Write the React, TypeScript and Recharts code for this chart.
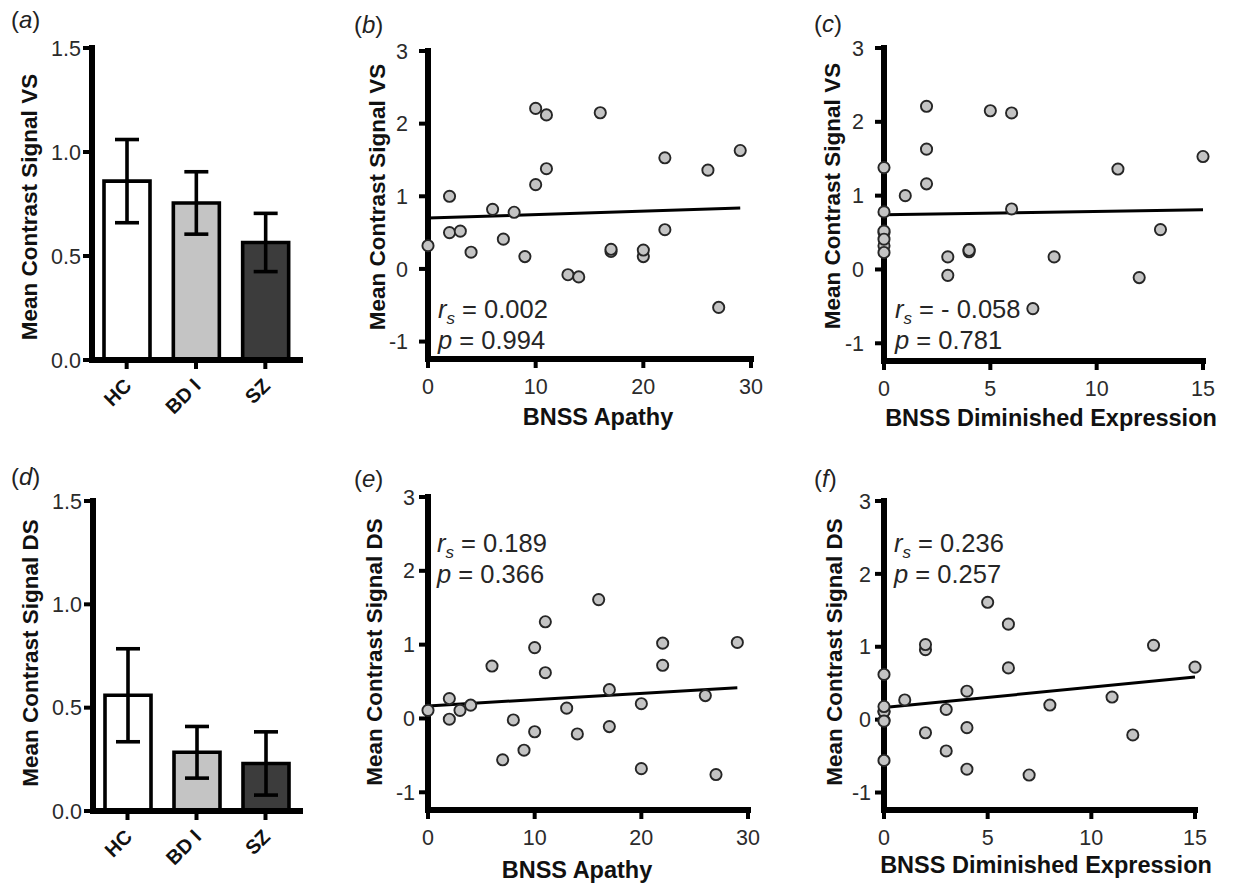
import React from 'react';
import {
  BarChart,
  Bar,
  Cell,
  ErrorBar,
  XAxis,
  YAxis,
  ScatterChart,
  Scatter,
  ReferenceLine,
} from 'recharts';

const FONT = '"Liberation Sans", Arial, Helvetica, sans-serif';

// ---- Bar panels (a) & (d) ----
const groups = ['HC', 'BD I', 'SZ'];
const groupFills = ['#ffffff', '#c4c4c4', '#3c3c3c'];
const vsMean = [0.86, 0.755, 0.565];
const vsSem = [0.2, 0.15, 0.14];
const dsMean = [0.56, 0.284, 0.23];
const dsSem = [0.225, 0.125, 0.153];
const barYTicks = [0, 0.5, 1, 1.5];

// ---- Scatter panels (b, c, e, f): one entry per patient ----
const apathy = [0, 2, 2, 3, 4, 6, 7, 8, 9, 10, 10, 11, 11, 13, 14, 16, 17, 17, 20, 20, 22, 22, 26, 27, 29];
const dimExpr = [0, 1, 0, 0, 0, 6, 0, 0, 3, 2, 2, 6, 0, 3, 12, 5, 4, 4, 8, 4, 15, 13, 11, 7, 2];
const vsSignal = [0.32, 1.0, 0.5, 0.52, 0.23, 0.82, 0.41, 0.78, 0.17, 1.16, 2.21, 2.12, 1.38, -0.08, -0.11, 2.15, 0.24, 0.27, 0.17, 0.26, 1.53, 0.54, 1.36, -0.53, 1.63];
const dsSignal = [0.11, 0.27, -0.01, 0.11, 0.18, 0.71, -0.56, -0.02, -0.43, 0.96, -0.18, 1.31, 0.62, 0.14, -0.21, 1.61, 0.39, -0.11, 0.2, -0.68, 0.72, 1.02, 0.31, -0.76, 1.03];

// regression line end points
const fitVsApathy = [{ x: 0, y: 0.7 }, { x: 29, y: 0.84 }];
const fitVsDimExpr = [{ x: 0, y: 0.74 }, { x: 15, y: 0.81 }];
const fitDsApathy = [{ x: 0, y: 0.17 }, { x: 29, y: 0.415 }];
const fitDsDimExpr = [{ x: 0, y: 0.165 }, { x: 15, y: 0.585 }];

const scatterYDomain: [number, number] = [-1.24, 3];
const scatterYTicks = [-1, 0, 1, 2, 3];
const apathyTicks = [0, 10, 20, 30];
const dimExprTicks = [0, 5, 10, 15];

const statsB = { r: '0.002', p: '0.994' };
const statsC = { r: '- 0.058', p: '0.781' };
const statsE = { r: '0.189', p: '0.366' };
const statsF = { r: '0.236', p: '0.257' };

const TICK_SIZE = 9;
const AXIS_LINE = { stroke: '#000', strokeWidth: 6, strokeLinecap: 'square' as const };
const TICK_LINE = { stroke: '#000', strokeWidth: 4 };
const TICK_FONT = { fontSize: 21.5, fill: '#2b2b2b', fontFamily: FONT, stroke: 'none' };

function YTitle(props: any) {
  const { value, cx, cy } = props;
  return (
    <text
      x={cx}
      y={cy}
      transform={`rotate(-90, ${cx}, ${cy})`}
      textAnchor="middle"
      dominantBaseline="central"
      stroke="none"
      style={{ fontSize: 22.5, fontWeight: 700, fill: '#111', fontFamily: FONT }}
    >
      {value}
    </text>
  );
}

function XTitle(props: any) {
  const { value, cx, cy } = props;
  return (
    <text
      x={cx}
      y={cy}
      textAnchor="middle"
      dominantBaseline="central"
      stroke="none"
      style={{ fontSize: 23.5, fontWeight: 700, fill: '#111', fontFamily: FONT }}
    >
      {value}
    </text>
  );
}

function CatTick(props: any) {
  const { x, y, payload } = props;
  return (
    <g transform={`translate(${x},${y})`}>
      <text
        transform="translate(6,17) rotate(-45)"
        textAnchor="end"
        stroke="none"
        style={{ fontSize: 20, fontWeight: 700, fill: '#111', fontFamily: FONT }}
      >
        {payload.value}
      </text>
    </g>
  );
}

function Dot(props: any) {
  const { cx, cy } = props;
  if (cx == null || cy == null) return <g />;
  return <circle cx={cx} cy={cy} r={5.6} fill="#c4c4c4" stroke="#262626" strokeWidth={1.9} />;
}

type BarPanelProps = {
  left: number;
  top: number;
  width: number;
  height: number;
  yAxisWidth: number;
  means: number[];
  sems: number[];
  title: string;
  titlePos: [number, number];
};

const fmt1 = (v: number) => v.toFixed(1);

function BarPanel(p: BarPanelProps) {
  const data = groups.map((g, i) => ({ name: g, v: p.means[i], e: p.sems[i] }));
  return (
    <div style={{ position: 'absolute', left: p.left, top: p.top }}>
      <BarChart
        width={p.width}
        height={p.height}
        data={data}
        margin={{ top: 20, right: 20, bottom: 0, left: 0 }}
        barSize={46}
      >
        <Bar dataKey="v" stroke="#000" strokeWidth={3.6} isAnimationActive={false}>
          {data.map((d, i) => (
            <Cell key={d.name} fill={groupFills[i]} />
          ))}
          <ErrorBar dataKey="e" width={12} strokeWidth={3.6} stroke="#000" direction="y" />
        </Bar>
        <XAxis
          dataKey="name"
          type="category"
          height={70}
          stroke="#000"
          axisLine={AXIS_LINE}
          tickLine={TICK_LINE}
          tickSize={TICK_SIZE}
          tickMargin={1}
          tick={<CatTick />}
          interval={0}
        />
        <YAxis
          type="number"
          domain={[0, 1.5]}
          ticks={barYTicks}
          width={p.yAxisWidth}
          stroke="#000"
          axisLine={AXIS_LINE}
          tickLine={TICK_LINE}
          tickSize={TICK_SIZE}
          tickMargin={2}
          tick={TICK_FONT}
          tickFormatter={fmt1}
          label={<YTitle value={p.title} cx={p.titlePos[0]} cy={p.titlePos[1]} />}
        />
      </BarChart>
    </div>
  );
}

type ScatterPanelProps = {
  left: number;
  top: number;
  width: number;
  height: number;
  xs: number[];
  ys: number[];
  xDomain: [number, number];
  xTicks: number[];
  fit: { x: number; y: number }[];
  yTitle: string;
  yTitlePos: [number, number];
  xTitle: string;
  xTitlePos: [number, number];
  yTickMargin: number;
};

function ScatterPanel(p: ScatterPanelProps) {
  const data = p.xs.map((x, i) => ({ x, y: p.ys[i] }));
  return (
    <div style={{ position: 'absolute', left: p.left, top: p.top }}>
      <ScatterChart
        width={p.width}
        height={p.height}
        margin={{ top: 20, right: 20, bottom: 0, left: 0 }}
      >
        <XAxis
          type="number"
          dataKey="x"
          domain={p.xDomain}
          ticks={p.xTicks}
          height={80}
          stroke="#000"
          axisLine={AXIS_LINE}
          tickLine={TICK_LINE}
          tickSize={TICK_SIZE}
          tickMargin={11}
          tick={TICK_FONT}
          label={<XTitle value={p.xTitle} cx={p.xTitlePos[0]} cy={p.xTitlePos[1]} />}
        />
        <YAxis
          type="number"
          dataKey="y"
          domain={scatterYDomain}
          ticks={scatterYTicks}
          width={100}
          stroke="#000"
          axisLine={AXIS_LINE}
          tickLine={TICK_LINE}
          tickSize={TICK_SIZE}
          tickMargin={p.yTickMargin}
          tick={TICK_FONT}
          label={<YTitle value={p.yTitle} cx={p.yTitlePos[0]} cy={p.yTitlePos[1]} />}
        />
        <Scatter data={data} shape={<Dot />} isAnimationActive={false} />
        <ReferenceLine
          segment={p.fit}
          stroke="#000"
          strokeWidth={3}
          ifOverflow="visible"
        />
      </ScatterChart>
    </div>
  );
}

function Stats({ x, y, r, p }: { x: number; y: number; r: string; p: string }) {
  const st = { fontSize: 25.5, fill: '#262626', fontFamily: FONT };
  return (
    <g>
      <text x={x} y={y} style={st}>
        <tspan fontStyle="italic">r</tspan>
        <tspan fontStyle="italic" fontSize={17} dy={6}>s</tspan>
        <tspan dy={-6}>{` = ${r}`}</tspan>
      </text>
      <text x={x} y={y + 31} style={st}>
        <tspan fontStyle="italic">p</tspan>
        <tspan>{` = ${p}`}</tspan>
      </text>
    </g>
  );
}

function PanelTag({ x, y, letter }: { x: number; y: number; letter: string }) {
  return (
    <text x={x} y={y} style={{ fontSize: 24, fill: '#222', fontFamily: FONT }}>
      <tspan>(</tspan>
      <tspan fontStyle="italic">{letter}</tspan>
      <tspan>)</tspan>
    </text>
  );
}

export default function App() {
  return (
    <div
      style={{
        position: 'absolute',
        left: 0,
        top: 0,
        width: 1233,
        height: 891,
        background: '#fff',
        overflow: 'hidden',
        fontFamily: FONT,
      }}
    >
      <BarPanel
        left={0}
        top={28}
        width={320}
        height={402}
        yAxisWidth={92}
        means={vsMean}
        sems={vsSem}
        title="Mean Contrast Signal VS"
        titlePos={[29, 179]}
      />
      <BarPanel
        left={0}
        top={481}
        width={320}
        height={400}
        yAxisWidth={93}
        means={dsMean}
        sems={dsSem}
        title="Mean Contrast Signal DS"
        titlePos={[30, 172]}
      />
      <ScatterPanel
        left={328}
        top={31}
        width={443}
        height={408}
        xs={apathy}
        ys={vsSignal}
        xDomain={[0, 30]}
        xTicks={apathyTicks}
        fit={fitVsApathy}
        yTitle="Mean Contrast Signal VS"
        yTitlePos={[49, 166]}
        xTitle="BNSS Apathy"
        xTitlePos={[270, 386]}
        yTickMargin={11}
      />
      <ScatterPanel
        left={784}
        top={28}
        width={439}
        height={413}
        xs={dimExpr}
        ys={vsSignal}
        xDomain={[0, 15]}
        xTicks={dimExprTicks}
        fit={fitVsDimExpr}
        yTitle="Mean Contrast Signal VS"
        yTitlePos={[48, 168]}
        xTitle="BNSS Diminished Expression"
        xTitlePos={[267, 390]}
        yTickMargin={11}
      />
      <ScatterPanel
        left={328}
        top={477}
        width={440}
        height={413}
        xs={apathy}
        ys={dsSignal}
        xDomain={[0, 30]}
        xTicks={apathyTicks}
        fit={fitDsApathy}
        yTitle="Mean Contrast Signal DS"
        yTitlePos={[46, 175]}
        xTitle="BNSS Apathy"
        xTitlePos={[249, 393]}
        yTickMargin={4}
      />
      <ScatterPanel
        left={784}
        top={481}
        width={431}
        height={409}
        xs={dimExpr}
        ys={dsSignal}
        xDomain={[0, 15]}
        xTicks={dimExprTicks}
        fit={fitDsDimExpr}
        yTitle="Mean Contrast Signal DS"
        yTitlePos={[50, 171]}
        xTitle="BNSS Diminished Expression"
        xTitlePos={[262, 384]}
        yTickMargin={4}
      />
      <svg
        width={1233}
        height={891}
        style={{ position: 'absolute', left: 0, top: 0, pointerEvents: 'none' }}
      >
        <PanelTag x={11} y={28} letter="a" />
        <PanelTag x={354} y={33} letter="b" />
        <PanelTag x={814} y={32} letter="c" />
        <PanelTag x={11} y={485} letter="d" />
        <PanelTag x={354} y={487} letter="e" />
        <PanelTag x={814} y={487} letter="f" />
        <Stats x={438} y={318} r={statsB.r} p={statsB.p} />
        <Stats x={895} y={318} r={statsC.r} p={statsC.p} />
        <Stats x={437} y={552} r={statsE.r} p={statsE.p} />
        <Stats x={894} y={552} r={statsF.r} p={statsF.p} />
      </svg>
    </div>
  );
}
